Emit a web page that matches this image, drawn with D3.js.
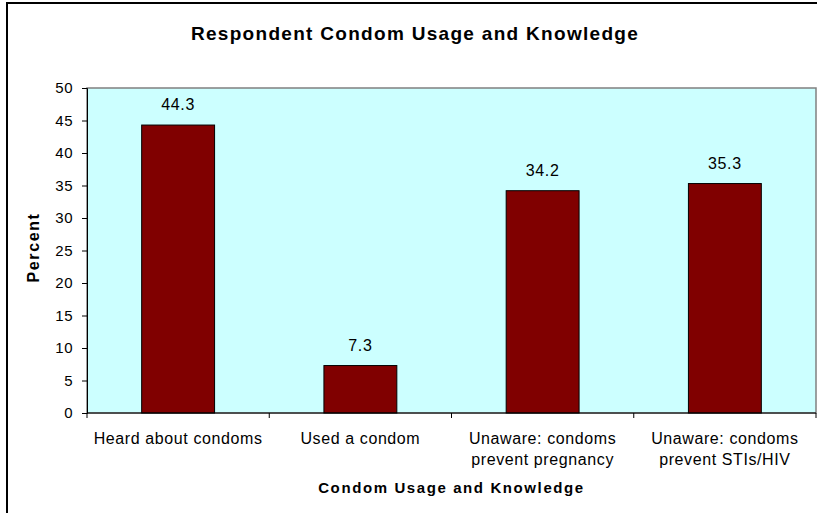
<!DOCTYPE html>
<html>
<head>
<meta charset="utf-8">
<script src="https://cdn.jsdelivr.net/npm/d3@7"></script>
<style>
  body { margin: 0; background: #fff; }
  text { font-family: "Liberation Sans", Arial, sans-serif; fill: #000; }
</style>
</head>
<body>
<div id="chart"></div>
<script>
// chart data
const categories = [
  ['Heard about condoms'],
  ['Used a condom'],
  ['Unaware: condoms', 'prevent pregnancy'],
  ['Unaware: condoms', 'prevent STIs/HIV']
];
const percents = [44.3, 7.3, 34.2, 35.3];
const yTicks = [0, 5, 10, 15, 20, 25, 30, 35, 40, 45, 50];

const W = 817, H = 513;
const plot = { left: 87, top: 88, right: 816, bottom: 413 };

const svg = d3.select('#chart').append('svg')
  .attr('width', W)
  .attr('height', H);

// outer chart border
svg.append('rect')
  .attr('x', 7).attr('y', 3)
  .attr('width', 830).attr('height', 530)
  .attr('fill', '#fff')
  .attr('stroke', '#000')
  .attr('stroke-width', 2);

const x = d3.scaleBand()
  .domain(d3.range(categories.length))
  .range([plot.left, plot.right])
  .paddingInner(0.6)
  .paddingOuter(0.3);

const y = d3.scaleLinear()
  .domain([0, 50])
  .range([plot.bottom, plot.top]);

// plot area
svg.append('rect')
  .attr('x', plot.left).attr('y', plot.top)
  .attr('width', plot.right - plot.left)
  .attr('height', plot.bottom - plot.top)
  .attr('fill', '#CCFFFF')
  .attr('stroke', '#808080')
  .attr('stroke-width', 1.5);

// bars
svg.selectAll('rect.bar')
  .data(percents)
  .join('rect')
  .attr('class', 'bar')
  .attr('x', (d, i) => x(i))
  .attr('y', d => y(d))
  .attr('width', x.bandwidth())
  .attr('height', d => y(0) - y(d))
  .attr('fill', '#800000')
  .attr('stroke', '#000')
  .attr('stroke-width', 1);

// value labels
svg.selectAll('text.val')
  .data(percents)
  .join('text')
  .attr('class', 'val')
  .attr('x', (d, i) => x(i) + x.bandwidth() / 2)
  .attr('y', d => y(d) - 15)
  .attr('text-anchor', 'middle')
  .attr('font-size', 16)
  .attr('letter-spacing', 0.6)
  .text(d => d.toFixed(1));

// y axis
const yAxis = svg.append('g')
  .attr('transform', `translate(${plot.left},0)`)
  .call(d3.axisLeft(y).tickValues(yTicks).tickSize(5).tickPadding(9));
yAxis.select('.domain').attr('stroke', '#000');
yAxis.selectAll('text')
  .attr('font-size', 15)
  .attr('letter-spacing', 0.5)
  .attr('font-family', '"Liberation Sans", Arial, sans-serif');

// x axis: tick marks at band boundaries
const step = x.step();
const bounds = d3.range(categories.length + 1).map(i => plot.left + i * step);
svg.append('line')
  .attr('x1', plot.left).attr('x2', plot.right)
  .attr('y1', plot.bottom).attr('y2', plot.bottom)
  .attr('stroke', '#000');
svg.selectAll('line.xtick')
  .data(bounds)
  .join('line')
  .attr('class', 'xtick')
  .attr('x1', d => d).attr('x2', d => d)
  .attr('y1', plot.bottom).attr('y2', plot.bottom + 5)
  .attr('stroke', '#000');

// x category labels
const xl = svg.selectAll('text.xl')
  .data(categories)
  .join('text')
  .attr('class', 'xl')
  .attr('text-anchor', 'middle')
  .attr('font-size', 16)
  .attr('letter-spacing', 0.6)
  .attr('x', (d, i) => x(i) + x.bandwidth() / 2)
  .attr('y', 444);
xl.selectAll('tspan')
  .data(d => d)
  .join('tspan')
  .attr('x', function () { return d3.select(this.parentNode).attr('x'); })
  .attr('dy', (d, i) => i === 0 ? 0 : 21)
  .text(d => d);

// titles
svg.append('text')
  .attr('x', 415).attr('y', 40)
  .attr('text-anchor', 'middle')
  .attr('font-size', 19)
  .attr('font-weight', 'bold')
  .attr('letter-spacing', 1.3)
  .text('Respondent Condom Usage and Knowledge');

svg.append('text')
  .attr('x', (plot.left + plot.right) / 2).attr('y', 493)
  .attr('text-anchor', 'middle')
  .attr('font-size', 15)
  .attr('font-weight', 'bold')
  .attr('letter-spacing', 1.6)
  .text('Condom Usage and Knowledge');

svg.append('text')
  .attr('transform', `translate(39,${(plot.top + plot.bottom) / 2 - 3}) rotate(-90)`)
  .attr('text-anchor', 'middle')
  .attr('font-size', 16)
  .attr('font-weight', 'bold')
  .attr('letter-spacing', 1.6)
  .text('Percent');
</script>
</body>
</html>
